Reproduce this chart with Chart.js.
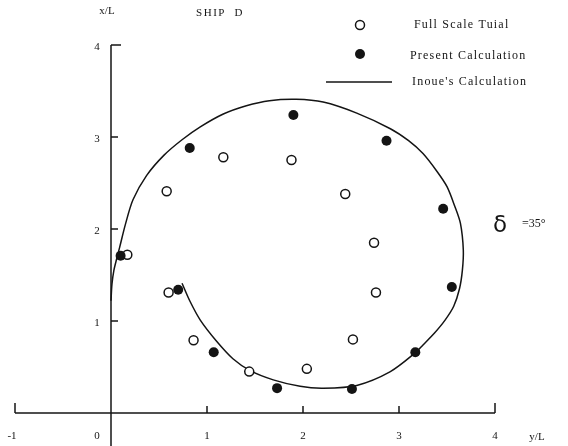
<!DOCTYPE html>
<html>
<head>
<meta charset="utf-8">
<script src="https://cdn.jsdelivr.net/npm/chart.js@4/dist/chart.umd.min.js"></script>
<style>
  html, body { margin: 0; padding: 0; background: #ffffff; }
  #wrap { width: 568px; height: 446px; position: relative; }
</style>
</head>
<body>
<div id="wrap"><canvas id="c" width="568" height="446"></canvas></div>
<script>
// ---- Data (y/L horizontal, x/L vertical) ----
const xTickValues = [-1, 0, 1, 2, 3, 4];
const xTickLabels = ["-1", "0", "1", "2", "3", "4"];
const yTickValues = [1, 2, 3, 4];
const yTickLabels = ["1", "2", "3", "4"];

const trialYL = [0.17, 0.58, 1.17, 1.88, 2.44, 2.74, 2.76, 2.52, 2.04, 1.44, 0.86, 0.60];
const trialXL = [1.72, 2.41, 2.78, 2.75, 2.38, 1.85, 1.31, 0.80, 0.48, 0.45, 0.79, 1.31];

const presentYL = [0.10, 0.82, 1.90, 2.87, 3.46, 3.55, 3.17, 2.51, 1.73, 1.07, 0.70];
const presentXL = [1.71, 2.88, 3.24, 2.96, 2.22, 1.37, 0.66, 0.26, 0.27, 0.66, 1.34];

const inoueYL = [0.00, 0.01, 0.03, 0.06, 0.09, 0.15, 0.23, 0.37, 0.55, 0.74, 0.93, 1.17, 1.41, 1.65, 1.93, 2.21, 2.56, 2.91, 3.10, 3.25, 3.40, 3.50, 3.58, 3.64, 3.67, 3.66, 3.63, 3.57, 3.48, 3.37, 3.25, 3.17, 2.91, 2.56, 2.21, 1.97, 1.69, 1.45, 1.27, 1.10, 0.93, 0.82, 0.74];
const inoueXL = [1.22, 1.40, 1.55, 1.68, 1.80, 2.05, 2.32, 2.58, 2.80, 2.97, 3.11, 3.25, 3.34, 3.395, 3.41, 3.38, 3.26, 3.09, 2.96, 2.82, 2.62, 2.46, 2.25, 2.06, 1.77, 1.55, 1.35, 1.16, 1.01, 0.87, 0.74, 0.655, 0.45, 0.30, 0.27, 0.29, 0.36, 0.46, 0.59, 0.78, 1.01, 1.22, 1.41];

const seriesNames = ["Full Scale Tuial", "Present Calculation", "Inoue's Calculation"];

const toPts = (xs, ys) => xs.map((v, i) => ({ x: v, y: ys[i] }));

const FONT = '"Liberation Serif", "DejaVu Serif", serif';
const INK = '#141414';

const drawPlugin = {
  id: 'handAxes',
  beforeDatasetsDraw(chart) {
    const ctx = chart.ctx;
    const xs = chart.scales.x, ys = chart.scales.y;
    const x0 = xs.getPixelForValue(0);
    const y0 = ys.getPixelForValue(0);
    ctx.save();
    ctx.strokeStyle = INK;
    ctx.lineWidth = 1.5;
    ctx.lineCap = 'butt';
    ctx.beginPath();
    ctx.moveTo(xs.getPixelForValue(-1), y0);
    ctx.lineTo(xs.getPixelForValue(4), y0);
    ctx.stroke();
    xTickValues.forEach(v => {
      if (v === 0) return;
      const px = xs.getPixelForValue(v);
      const len = (v === -1 || v === 4) ? 10 : 7;
      ctx.beginPath();
      ctx.moveTo(px, y0);
      ctx.lineTo(px, y0 - len);
      ctx.stroke();
    });
    ctx.beginPath();
    ctx.moveTo(x0, ys.getPixelForValue(4));
    ctx.lineTo(x0, chart.height);
    ctx.stroke();
    yTickValues.forEach(v => {
      const py = ys.getPixelForValue(v);
      const len = (v === 4) ? 10 : 7;
      ctx.beginPath();
      ctx.moveTo(x0, py);
      ctx.lineTo(x0 + len, py);
      ctx.stroke();
    });
    ctx.restore();
  },
  afterDraw(chart) {
    const ctx = chart.ctx;
    const xs = chart.scales.x, ys = chart.scales.y;
    const x0 = xs.getPixelForValue(0);
    const y0 = ys.getPixelForValue(0);
    ctx.save();
    ctx.fillStyle = INK;
    ctx.font = '11px ' + FONT;
    ctx.textBaseline = 'middle';
    ctx.textAlign = 'center';
    xTickValues.forEach((v, i) => {
      let px = xs.getPixelForValue(v);
      if (v === 0) px -= 14;
      if (v === -1) px -= 3;
      ctx.fillText(xTickLabels[i], px, y0 + 23);
    });
    ctx.fillText('y/L', xs.getPixelForValue(4) + 42, y0 + 24);
    yTickValues.forEach((v, i) => {
      ctx.fillText(yTickLabels[i], x0 - 14, ys.getPixelForValue(v) + 2);
    });
    ctx.fillText('x/L', x0 - 4, 11);
    ctx.letterSpacing = '1.5px';
    ctx.fillText('SHIP  D', 220, 13);
    // legend
    ctx.textAlign = 'left';
    const lx = 360;
    const rows = [25, 54, 82];
    ctx.lineWidth = 1.5;
    ctx.strokeStyle = INK;
    ctx.beginPath();
    ctx.arc(lx, rows[0], 4.5, 0, Math.PI * 2);
    ctx.fillStyle = '#fff';
    ctx.fill();
    ctx.stroke();
    ctx.fillStyle = INK;
    ctx.beginPath();
    ctx.arc(lx, rows[1], 5, 0, Math.PI * 2);
    ctx.fill();
    ctx.beginPath();
    ctx.moveTo(326, rows[2]);
    ctx.lineTo(392, rows[2]);
    ctx.stroke();
    ctx.font = '12px ' + FONT;
    ctx.letterSpacing = '1.2px';
    ctx.fillText(seriesNames[0], 414, rows[0]);
    ctx.fillText(seriesNames[1], 410, rows[1] + 2);
    ctx.fillText(seriesNames[2], 412, rows[2]);
    ctx.letterSpacing = '0px';
    // delta annotation
    ctx.font = '23px "DejaVu Sans", sans-serif';
    ctx.fillText('\u03B4', 493, 226);
    ctx.font = '12px ' + FONT;
    ctx.fillText('=35\u00B0', 522, 224);
    ctx.restore();
  }
};

new Chart(document.getElementById('c'), {
  type: 'scatter',
  data: {
    datasets: [
      {
        label: seriesNames[0],
        data: toPts(trialYL, trialXL),
        pointStyle: 'circle',
        pointRadius: 4.5,
        pointBorderWidth: 1.5,
        pointBackgroundColor: '#ffffff',
        pointBorderColor: INK,
        showLine: false,
        order: 2
      },
      {
        label: seriesNames[1],
        data: toPts(presentYL, presentXL),
        pointStyle: 'circle',
        pointRadius: 5,
        pointBorderWidth: 0,
        pointBackgroundColor: INK,
        pointBorderColor: INK,
        showLine: false,
        order: 1
      },
      {
        label: seriesNames[2],
        data: toPts(inoueYL, inoueXL),
        showLine: true,
        borderColor: INK,
        borderWidth: 1.5,
        pointRadius: 0,
        tension: 0.3,
        fill: false,
        order: 3
      }
    ]
  },
  options: {
    responsive: false,
    animation: false,
    events: [],
    layout: { padding: { left: 15, right: 73, top: 45, bottom: 33 } },
    plugins: {
      legend: { display: false },
      tooltip: { enabled: false },
      title: { display: false }
    },
    scales: {
      x: { type: 'linear', min: -1, max: 4, display: false },
      y: { type: 'linear', min: 0, max: 4, display: false }
    }
  },
  plugins: [drawPlugin]
});
</script>
</body>
</html>
